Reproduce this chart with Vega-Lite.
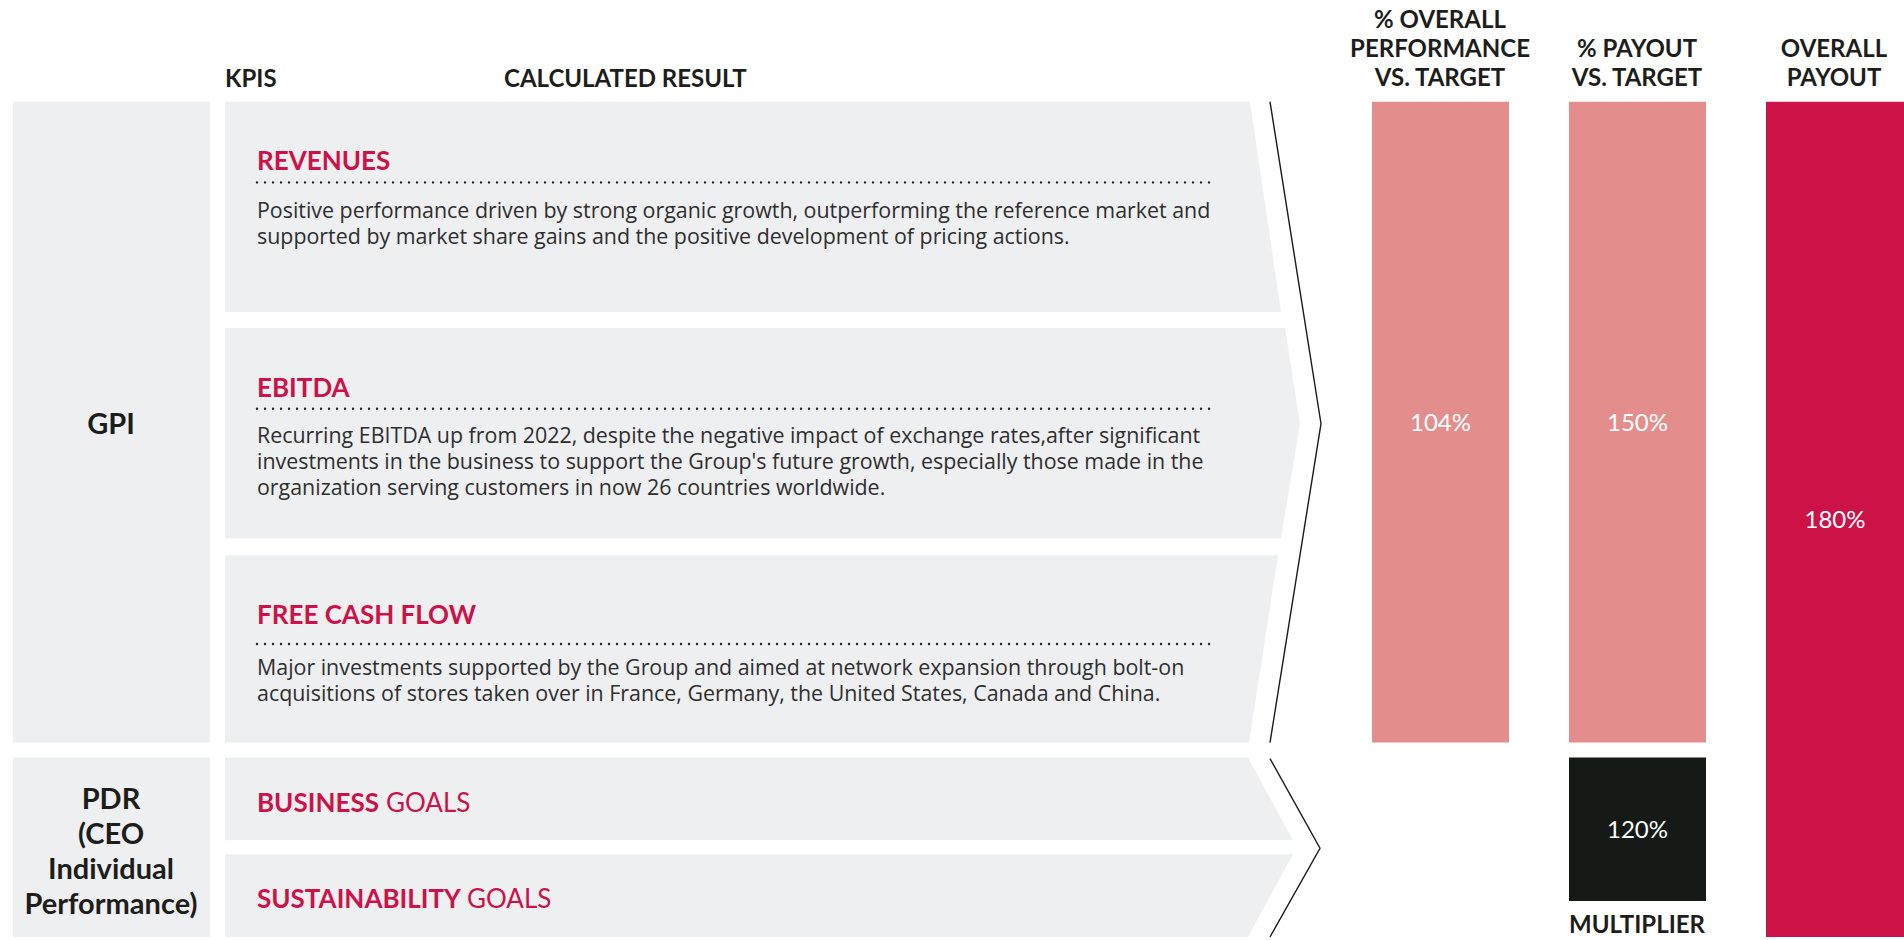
{
  "$schema": "https://vega.github.io/schema/vega-lite/v6.json",
  "autosize": {"type": "fit", "contains": "padding"},
  "width": 1904,
  "height": 940,
  "padding": 0,
  "background": "#ffffff",
  "config": {"view": {"stroke": null}},
  "datasets": {
    "blocks": [
      {"block": "GPI", "kind": "label", "x0": 13, "x1": 210, "y0": 102, "y1": 745},
      {"block": "PDR", "kind": "label", "x0": 13, "x1": 210, "y0": 760, "y1": 940},
      {"block": "GPI", "kind": "performance", "label": "104%", "x0": 1372, "x1": 1509, "y0": 102, "y1": 745},
      {"block": "GPI", "kind": "payout", "label": "150%", "x0": 1569, "x1": 1706, "y0": 102, "y1": 745},
      {"block": "PDR", "kind": "multiplier", "label": "120%", "x0": 1569, "x1": 1706, "y0": 760, "y1": 904},
      {"block": "ALL", "kind": "overall", "label": "180%", "x0": 1766, "x1": 1904, "y0": 102, "y1": 940}
    ],
    "shapes": [
      {"shape": "Revenues", "y": 102, "xl": 225, "xr": 1250},
      {"shape": "Revenues", "y": 313, "xl": 225, "xr": 1281},
      {"shape": "EBITDA", "y": 329, "xl": 225, "xr": 1285},
      {"shape": "EBITDA", "y": 425, "xl": 225, "xr": 1300},
      {"shape": "EBITDA", "y": 540, "xl": 225, "xr": 1281},
      {"shape": "FCF", "y": 557, "xl": 225, "xr": 1278},
      {"shape": "FCF", "y": 745, "xl": 225, "xr": 1249},
      {"shape": "Business", "y": 760, "xl": 225, "xr": 1248},
      {"shape": "Business", "y": 843, "xl": 225, "xr": 1293},
      {"shape": "Sustainability", "y": 857, "xl": 225, "xr": 1293},
      {"shape": "Sustainability", "y": 940, "xl": 225, "xr": 1248}
    ],
    "chevrons": [
      {"chevron": "GPI", "step": 1, "x": 1270, "y": 102},
      {"chevron": "GPI", "step": 2, "x": 1321, "y": 425},
      {"chevron": "GPI", "step": 3, "x": 1270, "y": 745},
      {"chevron": "PDR", "step": 1, "x": 1270, "y": 761},
      {"chevron": "PDR", "step": 2, "x": 1320, "y": 851},
      {"chevron": "PDR", "step": 3, "x": 1270, "y": 940}
    ],
    "dots": [
      {"kpi": "Revenues", "x0": 257, "x1": 1214, "y": 183},
      {"kpi": "EBITDA", "x0": 257, "x1": 1214, "y": 410},
      {"kpi": "FCF", "x0": 257, "x1": 1214, "y": 646}
    ],
    "texts": [
      {"role": "header_left", "text": "KPIS", "x": 225, "y": 80},
      {"role": "header_left", "text": "CALCULATED RESULT", "x": 504, "y": 80},
      {"role": "header_center", "text": "% OVERALL", "x": 1440, "y": 21},
      {"role": "header_center", "text": "PERFORMANCE", "x": 1440, "y": 50},
      {"role": "header_center", "text": "VS. TARGET", "x": 1440, "y": 79},
      {"role": "header_center", "text": "% PAYOUT", "x": 1637, "y": 50},
      {"role": "header_center", "text": "VS. TARGET", "x": 1637, "y": 79},
      {"role": "header_center", "text": "OVERALL", "x": 1834, "y": 50},
      {"role": "header_center", "text": "PAYOUT", "x": 1834, "y": 79},
      {"role": "group", "text": "GPI", "x": 111, "y": 426},
      {"role": "group", "text": "PDR", "x": 111, "y": 803},
      {"role": "group", "text": "(CEO", "x": 111, "y": 838},
      {"role": "group", "text": "Individual", "x": 111, "y": 873},
      {"role": "group", "text": "Performance)", "x": 111, "y": 908},
      {"role": "kpi_title", "text": "REVENUES", "x": 257, "y": 163},
      {"role": "kpi_title", "text": "EBITDA", "x": 257, "y": 390},
      {"role": "kpi_title", "text": "FREE CASH FLOW", "x": 257, "y": 618},
      {"role": "body", "text": "Positive performance driven by strong organic growth, outperforming the reference market and", "x": 257, "y": 213},
      {"role": "body", "text": "supported by market share gains and the positive development of pricing actions.", "x": 257, "y": 239},
      {"role": "body", "text": "Recurring EBITDA up from 2022, despite the negative impact of exchange rates,after significant", "x": 257, "y": 438},
      {"role": "body", "text": "investments in the business to support the Group's future growth, especially those made in the", "x": 257, "y": 464},
      {"role": "body", "text": "organization serving customers in now 26 countries worldwide.", "x": 257, "y": 491},
      {"role": "body", "text": "Major investments supported by the Group and aimed at network expansion through bolt-on", "x": 257, "y": 671},
      {"role": "body", "text": "acquisitions of stores taken over in France, Germany, the United States, Canada and China.", "x": 257, "y": 697},
      {"role": "goal_bold", "text": "BUSINESS", "x": 257, "y": 807},
      {"role": "goal_bold", "text": "SUSTAINABILITY", "x": 257, "y": 903},
      {"role": "goal_regular", "text": "GOALS", "x": 386, "y": 807},
      {"role": "goal_regular", "text": "GOALS", "x": 467, "y": 903},
      {"role": "footer", "text": "MULTIPLIER", "x": 1637, "y": 929}
    ]
  },
  "layer": [
    {
      "data": {"name": "blocks"},
      "mark": {"type": "rect"},
      "encoding": {
        "x": {"field": "x0", "type": "quantitative", "scale": {"domain": [0, 1904], "nice": false, "zero": false}, "axis": null},
        "x2": {"field": "x1"},
        "y": {"field": "y0", "type": "quantitative", "scale": {"domain": [0, 940], "nice": false, "zero": false, "reverse": true}, "axis": null},
        "y2": {"field": "y1"},
        "color": {
          "field": "kind", "type": "nominal", "legend": null,
          "scale": {"domain": ["label", "performance", "payout", "multiplier", "overall"], "range": ["#EEEFF1", "#E38D8D", "#E38D8D", "#161A17", "#CD1248"]}
        }
      }
    },
    {
      "data": {"name": "shapes"},
      "mark": {"type": "area", "orient": "horizontal", "color": "#EEEFF1", "interpolate": "linear"},
      "encoding": {
        "y": {"field": "y", "type": "quantitative", "scale": {"domain": [0, 940], "nice": false, "zero": false, "reverse": true}, "axis": null},
        "x": {"field": "xr", "type": "quantitative", "scale": {"domain": [0, 1904], "nice": false, "zero": false}, "axis": null},
        "x2": {"field": "xl"},
        "detail": {"field": "shape", "type": "nominal"}
      }
    },
    {
      "data": {"name": "chevrons"},
      "mark": {"type": "line", "color": "#1a1a1a", "strokeWidth": 1.4},
      "encoding": {
        "x": {"field": "x", "type": "quantitative", "scale": {"domain": [0, 1904], "nice": false, "zero": false}, "axis": null},
        "y": {"field": "y", "type": "quantitative", "scale": {"domain": [0, 940], "nice": false, "zero": false, "reverse": true}, "axis": null},
        "detail": {"field": "chevron", "type": "nominal"},
        "order": {"field": "step", "type": "quantitative"}
      }
    },
    {
      "data": {"name": "dots"},
      "mark": {"type": "rule", "color": "#2a2a2a", "strokeWidth": 2.4, "strokeCap": "round", "strokeDash": [0.1, 7.9]},
      "encoding": {
        "x": {"field": "x0", "type": "quantitative", "scale": {"domain": [0, 1904], "nice": false, "zero": false}, "axis": null},
        "x2": {"field": "x1"},
        "y": {"field": "y", "type": "quantitative", "scale": {"domain": [0, 940], "nice": false, "zero": false, "reverse": true}, "axis": null}
      }
    },
    {
      "data": {"name": "blocks"},
      "transform": [
        {"filter": "isValid(datum.label)"},
        {"fold": ["x0", "x1"], "as": ["xedge", "xpos"]},
        {"fold": ["y0", "y1"], "as": ["yedge", "ypos"]},
        {"aggregate": [{"op": "mean", "field": "xpos", "as": "xc"}, {"op": "mean", "field": "ypos", "as": "yc"}], "groupby": ["label"]}
      ],
      "mark": {"type": "text", "font": "Lato", "fontWeight": "normal", "fontSize": 24, "color": "#ffffff", "align": "center", "baseline": "middle", "dy": 2},
      "encoding": {
        "x": {"field": "xc", "type": "quantitative", "scale": {"domain": [0, 1904], "nice": false, "zero": false}, "axis": null},
        "y": {"field": "yc", "type": "quantitative", "scale": {"domain": [0, 940], "nice": false, "zero": false, "reverse": true}, "axis": null},
        "text": {"field": "label"}
      }
    },
    {
      "data": {"name": "texts"},
      "transform": [{"filter": "datum.role == 'header_left'"}],
      "mark": {"type": "text", "font": "Lato", "fontWeight": "bold", "fontSize": 24, "color": "#1d1d1b", "align": "left", "baseline": "middle"},
      "encoding": {
        "x": {"field": "x", "type": "quantitative", "scale": {"domain": [0, 1904], "nice": false, "zero": false}, "axis": null},
        "y": {"field": "y", "type": "quantitative", "scale": {"domain": [0, 940], "nice": false, "zero": false, "reverse": true}, "axis": null},
        "text": {"field": "text"}
      }
    },
    {
      "data": {"name": "texts"},
      "transform": [{"filter": "datum.role == 'header_center'"}],
      "mark": {"type": "text", "font": "Lato", "fontWeight": "bold", "fontSize": 24, "color": "#1d1d1b", "align": "center", "baseline": "middle"},
      "encoding": {
        "x": {"field": "x", "type": "quantitative", "scale": {"domain": [0, 1904], "nice": false, "zero": false}, "axis": null},
        "y": {"field": "y", "type": "quantitative", "scale": {"domain": [0, 940], "nice": false, "zero": false, "reverse": true}, "axis": null},
        "text": {"field": "text"}
      }
    },
    {
      "data": {"name": "texts"},
      "transform": [{"filter": "datum.role == 'group'"}],
      "mark": {"type": "text", "font": "Lato", "fontWeight": "bold", "fontSize": 29, "color": "#1d1d1b", "align": "center", "baseline": "middle"},
      "encoding": {
        "x": {"field": "x", "type": "quantitative", "scale": {"domain": [0, 1904], "nice": false, "zero": false}, "axis": null},
        "y": {"field": "y", "type": "quantitative", "scale": {"domain": [0, 940], "nice": false, "zero": false, "reverse": true}, "axis": null},
        "text": {"field": "text"}
      }
    },
    {
      "data": {"name": "texts"},
      "transform": [{"filter": "datum.role == 'kpi_title'"}],
      "mark": {"type": "text", "font": "Lato", "fontWeight": "bold", "fontSize": 26, "color": "#CD1248", "align": "left", "baseline": "middle"},
      "encoding": {
        "x": {"field": "x", "type": "quantitative", "scale": {"domain": [0, 1904], "nice": false, "zero": false}, "axis": null},
        "y": {"field": "y", "type": "quantitative", "scale": {"domain": [0, 940], "nice": false, "zero": false, "reverse": true}, "axis": null},
        "text": {"field": "text"}
      }
    },
    {
      "data": {"name": "texts"},
      "transform": [{"filter": "datum.role == 'body'"}],
      "mark": {"type": "text", "font": "Open Sans", "fontSize": 21.4, "color": "#2e2e2e", "align": "left", "baseline": "middle"},
      "encoding": {
        "x": {"field": "x", "type": "quantitative", "scale": {"domain": [0, 1904], "nice": false, "zero": false}, "axis": null},
        "y": {"field": "y", "type": "quantitative", "scale": {"domain": [0, 940], "nice": false, "zero": false, "reverse": true}, "axis": null},
        "text": {"field": "text"}
      }
    },
    {
      "data": {"name": "texts"},
      "transform": [{"filter": "datum.role == 'goal_bold'"}],
      "mark": {"type": "text", "font": "Lato", "fontWeight": "bold", "fontSize": 26, "color": "#CD1248", "align": "left", "baseline": "middle"},
      "encoding": {
        "x": {"field": "x", "type": "quantitative", "scale": {"domain": [0, 1904], "nice": false, "zero": false}, "axis": null},
        "y": {"field": "y", "type": "quantitative", "scale": {"domain": [0, 940], "nice": false, "zero": false, "reverse": true}, "axis": null},
        "text": {"field": "text"}
      }
    },
    {
      "data": {"name": "texts"},
      "transform": [{"filter": "datum.role == 'goal_regular'"}],
      "mark": {"type": "text", "font": "Lato", "fontWeight": "normal", "fontSize": 26, "color": "#CD1248", "align": "left", "baseline": "middle"},
      "encoding": {
        "x": {"field": "x", "type": "quantitative", "scale": {"domain": [0, 1904], "nice": false, "zero": false}, "axis": null},
        "y": {"field": "y", "type": "quantitative", "scale": {"domain": [0, 940], "nice": false, "zero": false, "reverse": true}, "axis": null},
        "text": {"field": "text"}
      }
    },
    {
      "data": {"name": "texts"},
      "transform": [{"filter": "datum.role == 'footer'"}],
      "mark": {"type": "text", "font": "Lato", "fontWeight": "bold", "fontSize": 24, "color": "#1d1d1b", "align": "center", "baseline": "middle", "clip": true},
      "encoding": {
        "x": {"field": "x", "type": "quantitative", "scale": {"domain": [0, 1904], "nice": false, "zero": false}, "axis": null},
        "y": {"field": "y", "type": "quantitative", "scale": {"domain": [0, 940], "nice": false, "zero": false, "reverse": true}, "axis": null},
        "text": {"field": "text"}
      }
    }
  ]
}
